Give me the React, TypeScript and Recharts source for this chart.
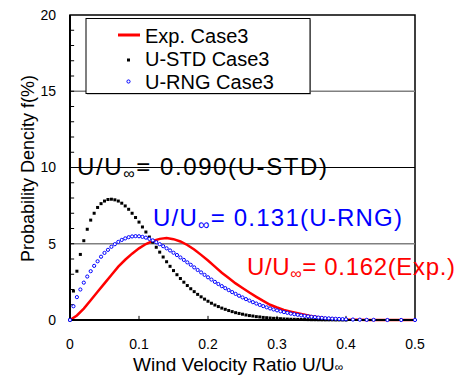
import React from 'react';
import { ComposedChart, Line, XAxis, YAxis, ReferenceLine, ReferenceArea } from 'recharts';

// Exp. Case3 (red line)
const expX = [0, 0.01, 0.02, 0.03, 0.04, 0.05, 0.06, 0.07, 0.08, 0.09, 0.1, 0.11, 0.12, 0.13, 0.14, 0.15, 0.16, 0.17, 0.18, 0.19, 0.2, 0.21, 0.22, 0.23, 0.24, 0.25, 0.26, 0.27, 0.28, 0.29, 0.3, 0.31, 0.32, 0.33, 0.34, 0.35, 0.36, 0.37, 0.38, 0.39, 0.4, 0.41, 0.42, 0.43, 0.5];
const expY = [0, 0.3, 0.75, 1.3, 1.85, 2.4, 2.95, 3.5, 3.95, 4.35, 4.7, 4.98, 5.18, 5.32, 5.37, 5.3, 5.15, 4.92, 4.62, 4.27, 3.9, 3.5, 3.1, 2.75, 2.4, 2.1, 1.8, 1.52, 1.25, 1.0, 0.82, 0.66, 0.55, 0.44, 0.34, 0.25, 0.18, 0.12, 0.08, 0.05, 0.03, 0.02, 0.01, 0, 0];

// U-STD Case3 (black squares)
const stdX = [0, 0.005, 0.01, 0.015, 0.02, 0.025, 0.03, 0.035, 0.04, 0.045, 0.05, 0.055, 0.06, 0.065, 0.07, 0.075, 0.08, 0.085, 0.09, 0.095, 0.1, 0.105, 0.11, 0.115, 0.12, 0.125, 0.13, 0.135, 0.14, 0.145, 0.15, 0.155, 0.16, 0.165, 0.17, 0.175, 0.18, 0.185, 0.19, 0.195, 0.2, 0.205, 0.21, 0.215, 0.22, 0.225, 0.23, 0.235, 0.24, 0.245, 0.25, 0.255, 0.26, 0.265, 0.27, 0.275, 0.28, 0.285, 0.29, 0.295, 0.3, 0.305, 0.31, 0.315, 0.32, 0.325, 0.33, 0.335, 0.34, 0.345, 0.35, 0.355, 0.36, 0.365, 0.37, 0.375, 0.38, 0.385, 0.39, 0.395, 0.4];
const stdY = [0, 1.9, 3.2, 4.3, 5.2, 5.95, 6.55, 7.0, 7.38, 7.63, 7.8, 7.9, 7.92, 7.88, 7.8, 7.66, 7.48, 7.26, 7.0, 6.72, 6.42, 6.1, 5.77, 5.44, 5.1, 4.77, 4.45, 4.13, 3.82, 3.52, 3.24, 2.97, 2.72, 2.48, 2.26, 2.05, 1.86, 1.68, 1.52, 1.37, 1.23, 1.1, 0.98, 0.88, 0.78, 0.7, 0.62, 0.55, 0.48, 0.43, 0.38, 0.33, 0.29, 0.26, 0.22, 0.2, 0.17, 0.15, 0.13, 0.11, 0.1, 0.085, 0.07, 0.06, 0.05, 0.045, 0.04, 0.035, 0.03, 0.025, 0.02, 0.018, 0.015, 0.012, 0.01, 0.01, 0.01, 0.005, 0.005, 0.005, 0];

// U-RNG Case3 (blue circles)
const rngX = [0, 0.005, 0.01, 0.015, 0.02, 0.025, 0.03, 0.035, 0.04, 0.045, 0.05, 0.055, 0.06, 0.065, 0.07, 0.075, 0.08, 0.085, 0.09, 0.095, 0.1, 0.105, 0.11, 0.115, 0.12, 0.125, 0.13, 0.135, 0.14, 0.145, 0.15, 0.155, 0.16, 0.165, 0.17, 0.175, 0.18, 0.185, 0.19, 0.195, 0.2, 0.205, 0.21, 0.215, 0.22, 0.225, 0.23, 0.235, 0.24, 0.245, 0.25, 0.255, 0.26, 0.265, 0.27, 0.275, 0.28, 0.285, 0.29, 0.295, 0.3, 0.305, 0.31, 0.315, 0.32, 0.325, 0.33, 0.335, 0.34, 0.345, 0.35, 0.355, 0.36, 0.365, 0.37, 0.375, 0.38, 0.385, 0.39, 0.395, 0.4, 0.41, 0.42, 0.43, 0.44, 0.46, 0.48, 0.5];
const rngY = [0, 0.9, 1.5, 2.0, 2.45, 2.85, 3.2, 3.55, 3.85, 4.15, 4.4, 4.6, 4.8, 4.97, 5.12, 5.25, 5.35, 5.43, 5.48, 5.5, 5.49, 5.45, 5.4, 5.32, 5.22, 5.1, 4.97, 4.84, 4.7, 4.56, 4.41, 4.26, 4.1, 3.94, 3.78, 3.62, 3.45, 3.28, 3.12, 2.96, 2.8, 2.65, 2.5, 2.36, 2.22, 2.09, 1.96, 1.83, 1.71, 1.59, 1.48, 1.37, 1.27, 1.17, 1.08, 0.99, 0.91, 0.83, 0.76, 0.69, 0.63, 0.57, 0.52, 0.47, 0.42, 0.38, 0.34, 0.3, 0.27, 0.24, 0.21, 0.19, 0.16, 0.14, 0.12, 0.11, 0.09, 0.08, 0.07, 0.06, 0.05, 0.03, 0.02, 0.01, 0.01, 0, 0, 0];

const xTicks = [0, 0.1, 0.2, 0.3, 0.4, 0.5];
const xInnerTicks = [0.1, 0.2, 0.3, 0.4];
const yTicks = [0, 5, 10, 15, 20];
const yInnerTicks = [1, 2, 3, 4, 5, 6, 7, 8, 9, 10, 11, 12, 13, 14, 15, 16, 17, 18, 19];
const grayGrid = [5, 15];
const blackGrid = [10];

const zip = (xs: number[], ys: number[]) => xs.map((x, i) => ({ x, y: ys[i] }));
const expData = zip(expX, expY);
const stdData = zip(stdX, stdY);
const rngData = zip(rngX, rngY);

const FONT = '"Liberation Sans", Arial, sans-serif';

const squareDot = (p: any) => (
  <rect key={`s${p.index}`} x={p.cx - 1.5} y={p.cy - 1.5} width={3} height={3} fill="#000" />
);
const circleDot = (p: any) => (
  <circle key={`c${p.index}`} cx={p.cx} cy={p.cy} r={1.6} fill="#fff" stroke="#0000ff" strokeWidth={1} />
);

export default function App() {
  return (
    <div style={{ position: 'absolute', left: 0, top: 0, width: 460, height: 376, background: '#fff', fontFamily: FONT }}>
      <ComposedChart width={460} height={376} margin={{ top: 15, right: 45, left: 0, bottom: 0 }} style={{ fontFamily: FONT }}>
        <XAxis
          dataKey="x"
          type="number"
          domain={[0, 0.5]}
          ticks={xTicks}
          allowDuplicatedCategory={false}
          height={56}
          tickLine={false}
          tickSize={6}
          tickMargin={13}
          axisLine={{ stroke: '#000', strokeWidth: 2 }}
          tick={{ fill: '#000', fontSize: 14 }}
          tickFormatter={(v: number) => String(v)}
        />
        <YAxis
          dataKey="y"
          type="number"
          domain={[0, 20]}
          ticks={yTicks}
          width={70}
          tickLine={false}
          tickSize={6}
          tickMargin={8}
          axisLine={{ stroke: '#000', strokeWidth: 2 }}
          tick={{ fill: '#000', fontSize: 14 }}
        />
        {grayGrid.map((v) => (
          <ReferenceLine key={`g${v}`} y={v} stroke="#808080" strokeWidth={1.5} />
        ))}
        {blackGrid.map((v) => (
          <ReferenceLine key={`b${v}`} y={v} stroke="#000" strokeWidth={1.2} />
        ))}
        {yInnerTicks.map((v) => (
          <ReferenceLine key={`yt${v}`} segment={[{ x: 0, y: v }, { x: 0.006, y: v }]} stroke="#000" strokeWidth={1} />
        ))}
        {xInnerTicks.map((v) => (
          <ReferenceLine key={`xt${v}`} segment={[{ x: v, y: 0 }, { x: v, y: 0.27 }]} stroke="#000" strokeWidth={1} />
        ))}
        <ReferenceArea x1={0} x2={0.5} y1={0} y2={20} fill="none" stroke="#000" strokeWidth={1.5} />
        <Line data={expData} dataKey="y" type="linear" stroke="#ff0000" strokeWidth={2.5} dot={false} isAnimationActive={false} />
        <Line data={stdData} dataKey="y" type="linear" stroke="none" strokeWidth={0} dot={squareDot} isAnimationActive={false} />
        <Line data={rngData} dataKey="y" type="linear" stroke="none" strokeWidth={0} dot={circleDot} isAnimationActive={false} />
      </ComposedChart>
      <svg width={460} height={376} style={{ position: 'absolute', left: 0, top: 0, pointerEvents: 'none', fontFamily: FONT }}>
        {/* legend */}
        <rect x={87} y={19.5} width={224} height={75} fill="#a0a0a0" />
        <rect x={86} y={18.5} width={224} height={75} fill="#fff" stroke="#000" strokeWidth={1} />
        <line x1={118} x2={140} y1={35} y2={35} stroke="#ff0000" strokeWidth={3} />
        <text x={145} y={42.7} fontSize={20} fill="#000">Exp. Case3</text>
        <rect x={127} y={58.5} width={3} height={3} fill="#000" />
        <text x={145} y={66} fontSize={20} fill="#000">U-STD Case3</text>
        <circle cx={128.5} cy={81.5} r={1.6} fill="#fff" stroke="#0000ff" strokeWidth={1} />
        <text x={145} y={89.3} fontSize={20} fill="#000">U-RNG Case3</text>

        {/* annotations */}
        <text x={77} y={175} fontSize={24} fill="#000" textLength={250} lengthAdjust="spacing">
          U/U<tspan fontSize={16} dy={4}>∞</tspan><tspan dy={-4}>= 0.090(U-STD)</tspan>
        </text>
        <text x={153} y={226} fontSize={24} fill="#0000ff" textLength={249} lengthAdjust="spacing">
          U/U<tspan fontSize={16} dy={4}>∞</tspan><tspan dy={-4}>= 0.131(U-RNG)</tspan>
        </text>
        <text x={247} y={275} fontSize={24} fill="#ff0000" textLength={208} lengthAdjust="spacing">
          U/U<tspan fontSize={16} dy={4}>∞</tspan><tspan dy={-4}>= 0.162(Exp.)</tspan>
        </text>

        {/* axis titles */}
        <text x={133} y={371} fontSize={19} fill="#000">
          Wind Velocity Ratio U/U<tspan fontSize={12}>∞</tspan>
        </text>
        <text x={0} y={0} fontSize={18} fill="#000" transform="translate(33.5 262) rotate(-90)">
          Probability Dencity f(%)
        </text>
      </svg>
    </div>
  );
}
